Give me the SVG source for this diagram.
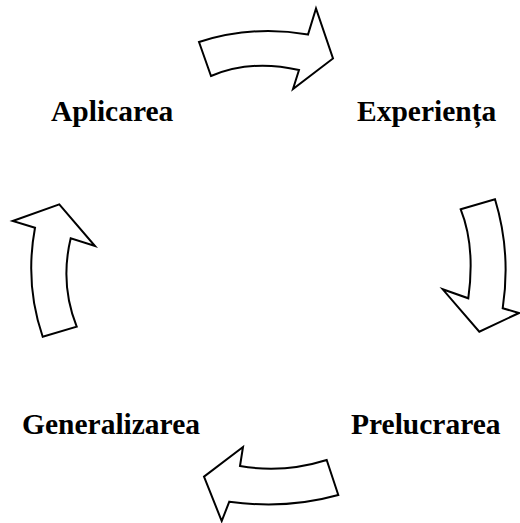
<svg xmlns="http://www.w3.org/2000/svg" width="520" height="523" viewBox="0 0 520 523">
<style>
.arrow{fill:#fff;stroke:#000;stroke-width:2;stroke-linejoin:miter}
.lbl{font-family:"Liberation Serif","Times New Roman",serif;font-weight:bold;font-size:29.5px;fill:#000}
</style>
<rect width="520" height="523" fill="#fff"/>
<g id="connectors">
<path id="arrow-top" class="arrow" d="M199,42 Q252.5,24.8 308,34.5 L316,8.5 L333,58.5 L293,89 L299,70 Q251,59 211,76 Z"/>
<path id="arrow-right" class="arrow" d="M460.7,209.3 L495,199.3 Q511.2,252.2 502.7,308.3 L519,313 L479.3,331.7 L442.7,289.3 L468.3,298.3 Q475.5,246.2 460.7,209.3 Z"/>
<path id="arrow-bottom" class="arrow" d="M326.7,460 L338.3,495 Q286.2,509.6 229.3,501.7 L221.7,521 L204,476.7 L243,447 L240,466 Q283.3,473.6 326.7,460 Z"/>
<path id="arrow-left" class="arrow" d="M12.7,221 L59.3,204.3 L95,246 L70.7,238.3 Q59.7,284.1 76.7,326.7 L42.7,336.7 Q24.6,283.8 35,227.7 Z"/>
</g>
<g id="node-aplicarea"><text class="lbl" x="51" y="121">Aplicarea</text></g>
<g id="node-experienta"><text class="lbl" x="357" y="121">Experiența</text></g>
<g id="node-prelucrarea"><text class="lbl" x="351" y="434">Prelucrarea</text></g>
<g id="node-generalizarea"><text class="lbl" x="22" y="434">Generalizarea</text></g>
</svg>
